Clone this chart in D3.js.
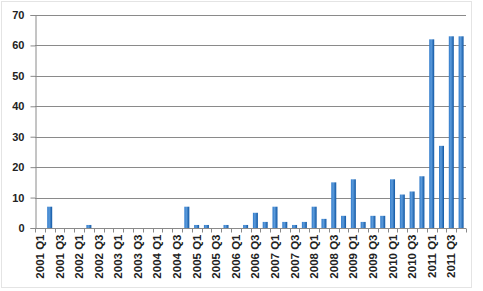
<!DOCTYPE html>
<html><head><meta charset="utf-8">
<script src="https://cdn.jsdelivr.net/npm/d3@7"></script>
<style>body{margin:0;background:#fff}svg{display:block}</style>
</head><body>
<script>
const years = ["2001","2002","2003","2004","2005","2006","2007","2008","2009","2010","2011"];
const quarters = ["Q1","Q2","Q3","Q4"];
const categories = years.flatMap(y => quarters.map(q => y + " " + q));
const values = [0,7,0,0, 0,1,0,0, 0,0,0,0, 0,0,0,7, 1,1,0,1, 0,1,5,2, 7,2,1,2, 7,3,15,4, 16,2,4,4, 16,11,12,17, 62,27,63,63];
const yTicks = [0,10,20,30,40,50,60,70];
const xTickLabels = categories.filter((d,i) => i % 2 === 0);

const W = 483, H = 291;
const m = {left:35, right:17, top:15, bottom:63};
const svg = d3.select("body").append("svg").attr("width", W).attr("height", H);

svg.append("rect").attr("x",1.5).attr("y",1.5).attr("width",470).attr("height",286)
  .attr("fill","none").attr("stroke","#e4e4e4");

const xb = d3.scaleBand().domain(categories).range([m.left, W - m.right]);
const y = d3.scaleLinear().domain([0,70]).range([H - m.bottom, m.top]);

const defs = svg.append("defs");
const g = defs.append("linearGradient").attr("id","bg").attr("x1","0").attr("x2","1").attr("y1","0").attr("y2","0");
g.append("stop").attr("offset","0%").attr("stop-color","#2f7acb");
g.append("stop").attr("offset","40%").attr("stop-color","#5c9bdb");
g.append("stop").attr("offset","100%").attr("stop-color","#0f56a3");

// gridlines
svg.append("g").selectAll("line").data(yTicks.filter(d=>d>0)).join("line")
  .attr("x1", m.left).attr("x2", W - m.right)
  .attr("y1", d => Math.round(y(d)) + 0.5).attr("y2", d => Math.round(y(d)) + 0.5)
  .attr("stroke", "#8a8a8a").attr("stroke-width", 1);

// y axis
const ya = svg.append("g").attr("transform", `translate(${m.left + 0.5},0)`)
  .call(d3.axisLeft(y).tickValues(yTicks).tickSize(5).tickPadding(6));
ya.select(".domain").attr("stroke", "#8a8a8a");
ya.selectAll(".tick line").attr("stroke", "#8a8a8a");
ya.selectAll("text").attr("font-family","Liberation Sans, Arial, sans-serif")
  .attr("font-size", 11).attr("font-weight","bold").attr("fill","#222");

// bars
svg.append("g").selectAll("rect").data(values).join("rect")
  .attr("x", (d,i) => xb(categories[i]) + (xb.bandwidth() - 5) / 2)
  .attr("width", 5)
  .attr("y", d => y(d))
  .attr("height", d => y(0) - y(d))
  .attr("fill", "url(#bg)");

// x axis
const baseY = Math.round(y(0)) + 0.5;
const xa = svg.append("g").attr("transform", `translate(0,${baseY})`);
xa.append("line").attr("x1", m.left).attr("x2", W - m.right).attr("stroke", "#8a8a8a");
const bounds = categories.map(c => xb(c)).concat([W - m.right]);
xa.selectAll("line.tk").data(bounds).join("line").attr("class","tk")
  .attr("x1", d => Math.round(d) + 0.5).attr("x2", d => Math.round(d) + 0.5)
  .attr("y1", 0).attr("y2", 4).attr("stroke", "#8a8a8a");
xa.selectAll("text").data(xTickLabels).join("text")
  .attr("transform", d => `translate(${xb(d) + xb.bandwidth()/2},6) rotate(-90)`)
  .attr("text-anchor", "end").attr("dy", "0.35em")
  .attr("font-family","Liberation Sans, Arial, sans-serif")
  .attr("font-size", 11.5).attr("font-weight","bold").attr("fill","#222")
  .text(d => d);
</script>
</body></html>
